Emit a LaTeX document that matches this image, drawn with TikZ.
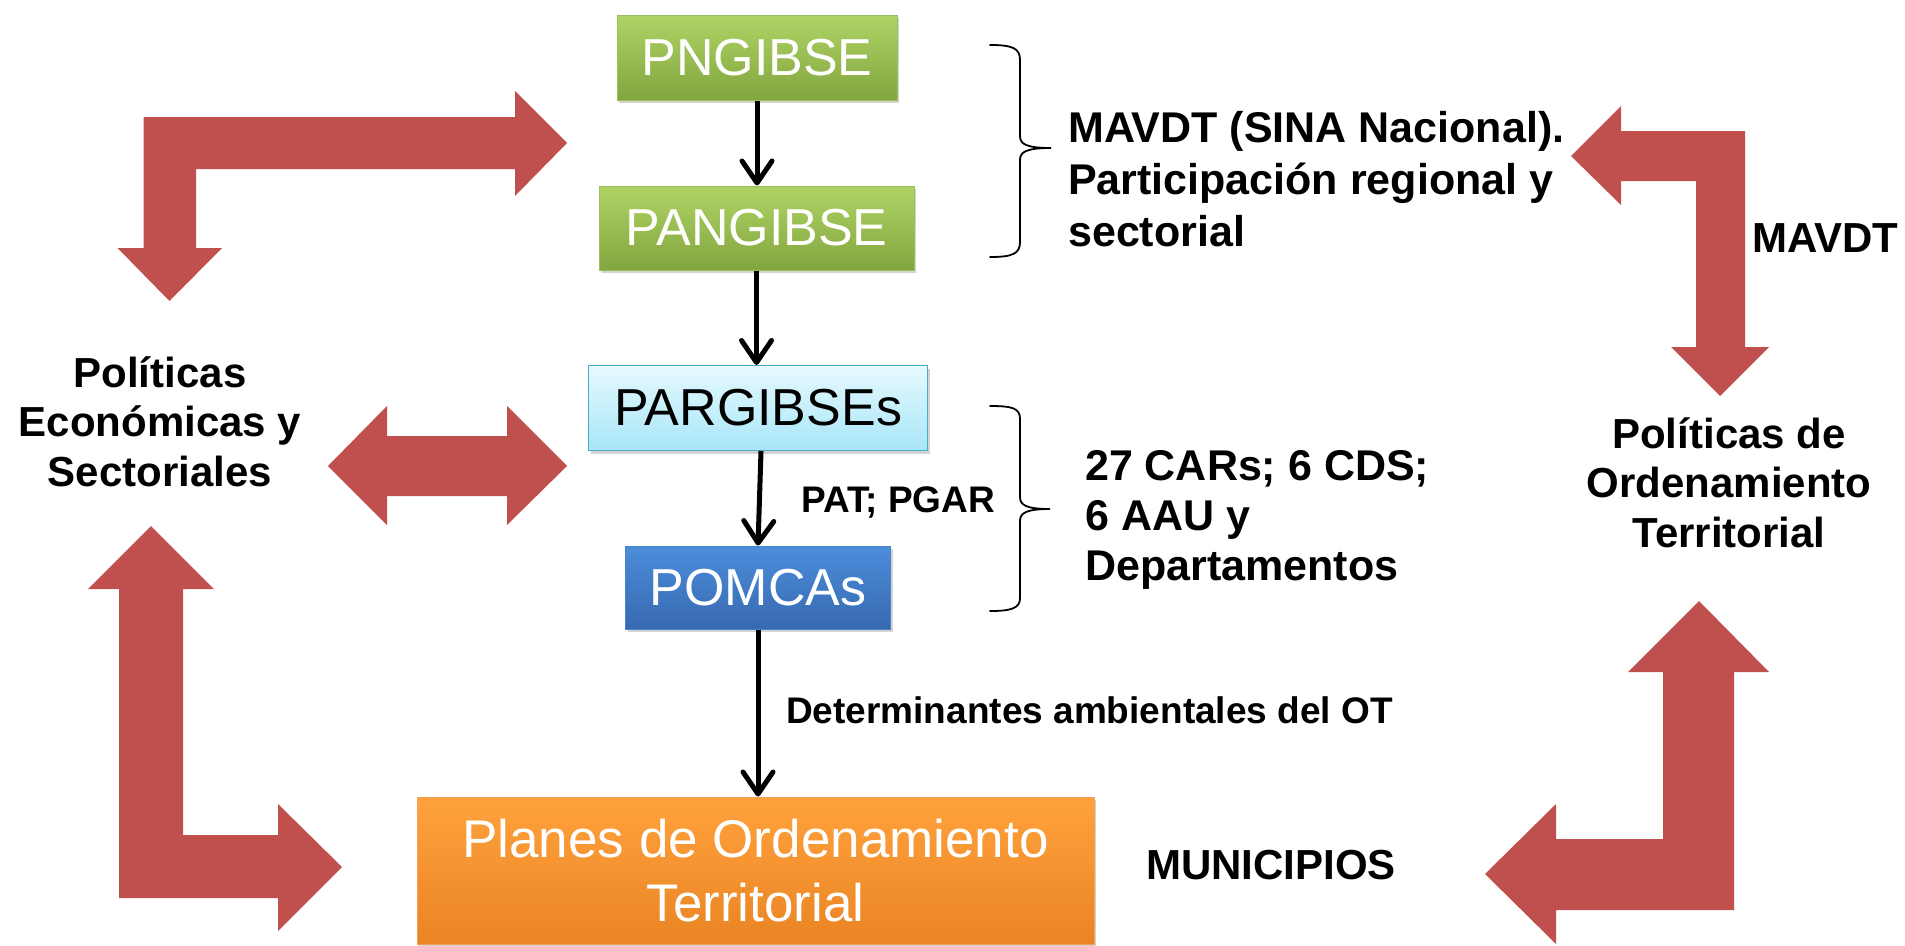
\documentclass[tikz,border=0pt]{standalone}
\usepackage{fontspec}
\setmainfont{Liberation Sans}
\usetikzlibrary{arrows.meta,shadows}
\definecolor{redarrow}{HTML}{C0504D}
\definecolor{greenTop}{HTML}{AFD365}
\definecolor{greenBot}{HTML}{82A63E}
\definecolor{greenDraw}{HTML}{9BBF5A}
\definecolor{blueTop}{HTML}{4C8DDB}
\definecolor{blueBot}{HTML}{3769B0}
\definecolor{blueDraw}{HTML}{4A82C8}
\definecolor{cyanTop}{HTML}{E6F9FE}
\definecolor{cyanBot}{HTML}{A8E6F8}
\definecolor{cyanDraw}{HTML}{4BACC6}
\definecolor{orangeTop}{HTML}{FFA23C}
\definecolor{orangeBot}{HTML}{EA8424}
\definecolor{orangeDraw}{HTML}{F5A050}
\begin{document}
\begin{tikzpicture}[x=1pt,y=-1pt,
  box/.style={draw, line width=1pt, inner sep=0pt, align=center,
    font=\fontsize{52}{64}\selectfont,
    drop shadow={opacity=0.35,shadow xshift=2pt,shadow yshift=-3pt}},
  greenbox/.style={box, top color=greenTop, bottom color=greenBot, draw=greenDraw, text=white},
  bluebox/.style={box, top color=blueTop, bottom color=blueBot, draw=blueDraw, text=white},
  cyanbox/.style={box, top color=cyanTop, bottom color=cyanBot, draw=cyanDraw, text=black},
  orangebox/.style={box, top color=orangeTop, bottom color=orangeBot, draw=orangeDraw, text=white},
  flow/.style={line width=5pt, -{Straight Barb[length=22pt,width=30pt,round]}},
  lbl/.style={inner sep=0pt, text=black},
  bigarrow/.style={fill=redarrow, draw=none},
  bracestyle/.style={line width=1.8pt, line cap=round}
]
\useasboundingbox (0,0) rectangle (1905,945);

% boxes
\node[greenbox, minimum width=280pt, minimum height=85pt] (png) at (757,57.5) {PNGIBSE};
\node[greenbox, minimum width=315pt, minimum height=84pt] (pang) at (756.5,228) {PANGIBSE};
\node[cyanbox, minimum width=339pt, minimum height=85pt] (parg) at (758,408) {PARGIBSEs};
\node[bluebox, minimum width=265pt, minimum height=83pt] (pomcas) at (758,587.5) {POMCAs};
\node[orangebox, minimum width=677pt, minimum height=147pt, font=\fontsize{53}{64}\selectfont] (planes) at (755.5,870.5) {Planes de Ordenamiento\\Territorial};

% black connectors
\draw[flow] (png.south) -- (png.south |- pang.north);
\draw[flow] (pang.south) -- (pang.south |- parg.north);
\draw[flow] ([xshift=3pt]parg.south) -- (pomcas.north);
\draw[flow] (pomcas.south) -- (pomcas.south |- planes.north);

% labels
\node[lbl, anchor=base west, font=\fontsize{37}{40}\selectfont\bfseries] (patpgar) at (801,512) {PAT; PGAR};
\node[lbl, anchor=base west, font=\fontsize{37}{40}\selectfont\bfseries] (det) at (786,723) {Determinantes ambientales del OT};
\node[lbl, anchor=south west, align=left, font=\fontsize{43}{52}\selectfont\bfseries] (sina) at (1068,247) {MAVDT (SINA Nacional).\\Participación regional y\\sectorial};
\node[lbl, anchor=south west, align=left, font=\fontsize{43}{50}\selectfont\bfseries] (cars) at (1085,590) {27 CARs; 6 CDS;\\6 AAU y\\Departamentos};
\node[lbl, anchor=south, align=center, font=\fontsize{42}{49.5}\selectfont\bfseries] (pes) at (160,487) {Políticas\\Económicas y\\Sectoriales};
\node[lbl, anchor=south, align=center, font=\fontsize{42}{49.5}\selectfont\bfseries] (pot) at (1729,548) {Políticas de\\Ordenamiento\\Territorial};
\node[lbl, anchor=base west, font=\fontsize{42}{44}\selectfont\bfseries] (mavdt) at (1752,252) {MAVDT};
\node[lbl, anchor=base west, font=\fontsize{42}{44}\selectfont\bfseries] (muni) at (1146,879) {MUNICIPIOS};

% braces
\draw[bracestyle] (990,45) .. controls (1012,45) and (1020,48) .. (1020,60) -- (1020,136)
  .. controls (1020,144) and (1026,148) .. (1051,148)
  .. controls (1026,148) and (1020,152) .. (1020,160) -- (1020,242)
  .. controls (1020,254) and (1012,257) .. (990,257);
\draw[bracestyle] (990,406) .. controls (1012,406) and (1020,408) .. (1020,419) -- (1020,497)
  .. controls (1020,505) and (1026,509) .. (1050,509)
  .. controls (1026,509) and (1020,513) .. (1020,521) -- (1020,598)
  .. controls (1020,608) and (1012,611) .. (990,611);

% big red arrows
\fill[bigarrow] (567,143) -- (515,196) -- (515,169) -- (196,169) -- (196,248) -- (222,248)
  -- (169.5,301) -- (117.5,248) -- (143.5,248) -- (143.5,117) -- (515,117) -- (515,91) -- cycle;
\fill[bigarrow] (1571,156) -- (1621,106) -- (1621,131) -- (1745,131) -- (1745,347) -- (1769,347)
  -- (1720,396) -- (1671,347) -- (1696,347) -- (1696,181) -- (1621,181) -- (1621,205) -- cycle;
\fill[bigarrow] (1699,601) -- (1769,672) -- (1734,672) -- (1734,910) -- (1556,910) -- (1556,944)
  -- (1485,874) -- (1556,804) -- (1556,839) -- (1663,839) -- (1663,672) -- (1628,672) -- cycle;
\fill[bigarrow] (151,526) -- (214,589) -- (183,589) -- (183,835) -- (278,835) -- (278,804)
  -- (342,867) -- (278,931) -- (278,898) -- (119,898) -- (119,589) -- (88,589) -- cycle;
\fill[bigarrow] (328,466) -- (387,406) -- (387,436) -- (507,436) -- (507,406) -- (567,466)
  -- (507,525) -- (507,496) -- (387,496) -- (387,525) -- cycle;
\end{tikzpicture}
\end{document}
